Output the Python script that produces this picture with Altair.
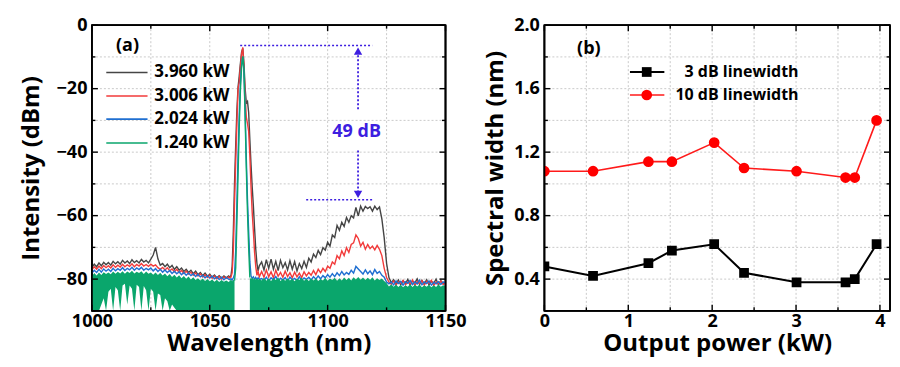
import altair as alt
import pandas as pd

FONT = "Open Sans"

# ---------------- panel (a): spectra ----------------
wl_a = list(range(1000, 1059))
wl_b = [1058.5, 1059, 1059.5, 1060, 1060.5, 1061, 1061.5, 1062, 1062.5, 1063, 1063.5,
        1064, 1064.5, 1065, 1065.5, 1066, 1066.5, 1067, 1067.5, 1068, 1068.5, 1069,
        1069.5, 1070, 1070.5, 1071]
wl_c = list(range(1072, 1151))
wavelength = [float(v) for v in wl_a + wl_b + wl_c]

# 3.960 kW
p3960 = [
    -76.4, -75.3, -76.1, -74.9, -75.8, -74.7, -75.5, -74.8, -75.6, -74.4,
    -75.2, -74.5, -75.3, -74.1, -74.9, -74.3, -75.1, -73.9, -74.8, -74.2,
    -74.9, -73.8, -74.6, -74.1, -74.9, -73.7, -72.4, -70.0, -73.6, -75.6,
    -75.1, -76.1, -75.3, -76.4, -75.7, -76.9, -76.1, -77.2, -76.5, -77.6,
    -76.9, -77.9, -77.2, -78.3, -77.5, -78.6, -77.9, -78.9, -78.1, -79.1,
    -78.5, -79.4, -78.7, -79.6, -78.9, -79.7, -79.0, -79.6, -79.0,
    -79.4, -78.8, -76.0, -65.0, -50.0, -38.0, -27.0, -19.5, -16.0, -12.0, -8.5, -7.3, -12.0,
    -20.0, -24.5, -24.0, -27.5, -36.0, -44.0, -51.0, -57.0, -64.0, -70.5, -75.0, -77.5, -75.8,
    -74.6, -77.1, -73.9, -76.6, -73.7, -76.9, -74.4, -77.3, -74.1, -76.4,
    -74.8, -77.1, -74.2, -76.9, -74.5, -77.4, -75.1, -76.7, -74.4, -76.3,
    -73.4, -74.6, -72.1, -73.2, -71.0, -72.3, -70.1, -70.9, -68.4, -69.6,
    -66.1, -66.9, -63.1, -64.6, -62.1, -63.4, -60.6, -62.1, -60.0, -60.7,
    -57.4, -60.1, -57.0, -58.6, -57.1, -57.8, -57.2, -58.6, -57.0, -58.1,
    -57.3, -61.0, -67.0, -75.0, -79.5, -81.1, -80.2, -81.6, -80.3, -81.8,
    -80.5, -81.4, -80.1, -81.9, -80.6, -81.2, -79.9, -81.7, -80.4, -81.5,
    -80.2, -81.8, -80.7, -81.3, -80.0, -81.9, -80.5, -81.4, -80.9,
]
# 3.006 kW
p3006 = [
    -77.0, -76.1, -76.9, -75.9, -76.7, -75.7, -76.4, -75.8, -76.5, -75.5,
    -76.3, -75.6, -76.2, -75.3, -76.1, -75.5, -76.0, -75.2, -76.1, -75.4,
    -75.9, -75.1, -75.9, -75.4, -76.0, -75.3, -75.9, -75.5, -76.4, -76.9,
    -76.3, -77.1, -76.4, -77.4, -76.8, -77.7, -76.9, -77.9, -77.3, -78.2,
    -77.5, -78.4, -77.8, -78.8, -78.1, -79.0, -78.3, -79.3, -78.6, -79.5,
    -78.8, -79.7, -79.0, -79.9, -79.2, -80.0, -79.3, -79.8, -79.3,
    -79.7, -79.4, -78.0, -71.0, -56.0, -43.0, -31.0, -20.0, -18.0, -13.0, -9.0, -7.0, -13.5,
    -22.0, -29.0, -31.0, -33.5, -41.0, -51.0, -59.0, -65.0, -71.5, -76.0, -78.8, -77.6, -79.3,
    -77.6, -79.4, -77.1, -79.3, -77.7, -79.6, -77.2, -79.1, -77.9, -79.4,
    -77.5, -79.2, -78.0, -79.6, -77.8, -79.3, -78.1, -79.5, -77.7, -79.0,
    -77.9, -78.8, -77.3, -78.6, -76.9, -78.0, -76.6, -77.6, -75.9, -76.6,
    -74.6, -75.3, -72.6, -73.6, -71.1, -72.6, -70.1, -71.6, -69.1, -68.6,
    -66.1, -67.2, -69.6, -68.4, -70.6, -69.1, -70.4, -69.6, -70.8, -69.4,
    -70.6, -72.6, -76.6, -79.5, -80.9, -81.6, -80.6, -81.9, -80.8, -81.3,
    -80.4, -81.8, -80.9, -81.5, -80.3, -82.0, -80.8, -81.4, -80.5, -81.9,
    -80.7, -81.3, -80.4, -82.0, -80.9, -81.5, -80.6, -81.7, -81.0,
]
# 2.024 kW
p2024 = [
    -78.1, -77.2, -77.9, -76.9, -77.8, -76.8, -77.5, -76.9, -77.6, -76.6,
    -77.4, -76.7, -77.2, -76.4, -77.3, -76.6, -77.1, -76.3, -77.2, -76.5,
    -77.0, -76.3, -77.2, -76.6, -77.1, -76.5, -77.4, -76.7, -77.6, -76.9,
    -77.8, -77.1, -77.9, -77.3, -78.2, -77.5, -78.3, -77.7, -78.6, -77.9,
    -78.8, -78.1, -78.9, -78.3, -79.2, -78.5, -79.3, -78.8, -79.6, -78.9,
    -79.7, -79.1, -79.9, -79.3, -80.1, -79.4, -80.2, -79.5, -80.0,
    -80.2, -79.9, -80.3, -79.6, -78.5, -71.0, -56.0, -41.0, -28.0, -18.0, -12.5, -10.0, -14.5,
    -27.0, -42.0, -55.0, -65.0, -74.5, -79.0, -79.8, -79.3, -80.1, -79.5, -80.2, -79.6, -80.1,
    -79.8, -80.4, -79.4, -80.6, -79.6, -80.2, -79.2, -80.5, -79.7, -80.3,
    -79.5, -80.6, -79.4, -80.2, -79.8, -80.5, -79.3, -80.4, -79.6, -80.1,
    -79.4, -80.3, -79.2, -80.0, -79.0, -79.9, -78.9, -79.6, -78.6, -79.4,
    -78.3, -79.2, -78.0, -78.9, -77.6, -78.7, -77.9, -78.5, -77.2, -78.1,
    -76.0, -76.8, -77.6, -78.4, -77.1, -78.3, -77.4, -78.6, -77.0, -78.2,
    -77.6, -78.8, -79.4, -80.9, -81.5, -80.9, -81.8, -80.6, -81.4, -80.7,
    -81.9, -80.8, -81.3, -80.4, -81.7, -80.9, -81.5, -80.3, -81.8, -80.9,
    -81.4, -80.6, -81.9, -81.0, -81.5, -80.8, -81.7, -80.9, -81.3,
]
# 1.240 kW (upper edge of the dense noise band)
p1240 = [
    -79.1, -78.1, -78.9, -77.9, -78.7, -77.8, -78.4, -77.9, -78.5, -77.6,
    -78.3, -77.7, -78.2, -77.5, -78.3, -77.6, -78.1, -77.4, -78.2, -77.7,
    -78.1, -77.5, -78.4, -77.6, -78.3, -77.9, -78.6, -77.9, -78.7, -78.0,
    -78.9, -78.2, -79.1, -78.4, -79.3, -78.6, -79.5, -78.8, -79.7, -79.0,
    -79.9, -79.2, -80.1, -79.4, -80.3, -79.7, -80.4, -79.8, -80.6, -80.0,
    -80.7, -80.1, -80.8, -80.2, -80.9, -80.3, -80.8, -80.4, -80.9,
    -80.6, -80.1, -80.7, -80.2, -80.5, -76.5, -62.0, -47.0, -32.0, -20.5, -13.0, -9.8, -14.0,
    -29.0, -45.0, -59.0, -70.0, -79.5, -80.0, -79.4, -80.1, -79.6, -80.2, -79.7, -80.3, -79.8,
    -80.4, -79.6, -80.5, -79.8, -80.6, -79.7, -80.3, -79.5, -80.6, -79.9,
    -80.5, -79.7, -80.4, -79.9, -80.7, -79.8, -80.3, -79.6, -80.5, -79.9,
    -80.6, -79.8, -80.4, -79.7, -80.6, -80.0, -80.4, -79.6, -80.5, -79.8,
    -80.3, -79.6, -80.5, -79.7, -80.4, -79.5, -80.3, -79.6, -80.4, -79.4,
    -80.1, -79.3, -80.2, -79.5, -80.3, -79.6, -80.2, -79.4, -80.4, -79.7,
    -80.3, -79.8, -80.6, -81.2, -82.3, -81.6, -82.4, -81.7, -82.5, -81.8,
    -82.6, -81.9, -82.4, -81.6, -82.5, -81.8, -82.3, -81.7, -82.6, -81.9,
    -82.4, -81.8, -82.6, -81.9, -82.5, -81.7, -82.4, -81.9, -82.3,
]
# lower edge of the 1.240 kW noise band (white gaps near 1005-1035 nm)
p1240_floor = ([-90.0] * 4 + [
    -88.0, -86.0, -90.0, -84.0, -83.0, -90.0, -82.5, -83.5, -90.0, -82.0,
    -81.5, -88.0, -82.0, -83.0, -90.0, -81.8, -82.5, -90.0, -82.2, -83.5,
    -90.0, -83.0, -84.0, -90.0, -84.5, -85.0, -90.0, -86.0, -87.0, -90.0,
    -88.0, -89.0, -90.0] + [-90.0] * 22 + [-90.0] * 26 + [-90.0] * 79)

assert len(wavelength) == len(p3960) == len(p3006) == len(p2024) == len(p1240) == len(p1240_floor)

legend_a_labels = ["3.960 kW", "3.006 kW", "2.024 kW", "1.240 kW"]
legend_a_colors = ["#454545", "#f23a3a", "#1f6fd1", "#0aa66c"]
legend_a_y = [-14.9, -22.3, -29.6, -37.1]

# ---------------- panel (b): linewidths ----------------
power_kw = [0.0, 0.58, 1.24, 1.52, 2.024, 2.38, 3.006, 3.59, 3.70, 3.96]
width_3db = [0.48, 0.42, 0.50, 0.58, 0.62, 0.44, 0.38, 0.38, 0.40, 0.62]
width_10db = [1.08, 1.08, 1.14, 1.14, 1.26, 1.10, 1.08, 1.04, 1.04, 1.40]

# ---------------- tick / grid positions ----------------
xa_major = [1000, 1050, 1100, 1150]
xa_minor = [1025, 1075, 1125]
ya_major = [-80, -60, -40, -20, 0]
ya_minor = [-90, -70, -50, -30, -10]
xa_grid = [1025, 1050, 1075, 1100, 1125]
ya_grid = [-80, -70, -60, -50, -40, -30, -20, -10]
xb_major = [0, 1, 2, 3, 4]
xb_minor = [0.5, 1.5, 2.5, 3.5]
yb_major = [0.4, 0.8, 1.2, 1.6, 2.0]
yb_minor = [0.2, 0.6, 1.0, 1.4, 1.8]
xb_grid = [0.5, 1, 1.5, 2, 2.5, 3, 3.5, 4]
yb_grid = [0.4, 0.6, 0.8, 1.0, 1.2, 1.4, 1.6, 1.8]

# ---------------- shared styling ----------------
WA, HA = 354, 286
WB, HB = 346, 286
XA_DOM, YA_DOM = (1000, 1150), (-90, 0)
XB_DOM, YB_DOM = (0, 4.12), (0.2, 2.0)
PURPLE = "#3d1ee0"
GRID_COLOR = "#c4c4c4"
LBL = dict(labelFont=FONT, labelFontSize=18, labelFontWeight="bold", labelColor="black",
           titleFont=FONT, titleFontSize=24, titleFontWeight="bold", titleColor="black",
           labelFlush=False, labelOverlap=False, labelBound=False, grid=False,
           ticks=False, domain=False, zindex=0)

xs_a = alt.Scale(domain=list(XA_DOM), nice=False, zero=False)
ys_a = alt.Scale(domain=list(YA_DOM), nice=False, zero=False)
xa_main = alt.Axis(values=xa_major, format="d", labelPadding=2, titlePadding=1,
                   title="Wavelength (nm)", **LBL)
ya_main = alt.Axis(values=ya_major, format="d", labelPadding=5, titlePadding=13,
                   title="Intensity (dBm)", **LBL)

xs_b = alt.Scale(domain=list(XB_DOM), nice=False, zero=False)
ys_b = alt.Scale(domain=list(YB_DOM), nice=False, zero=False)
xb_main = alt.Axis(values=xb_major, format=".0f", labelPadding=2, titlePadding=1,
                   title="Output power (kW)", **LBL)
yb_main = alt.Axis(values=yb_major, format=".1f", labelPadding=5, titlePadding=6,
                   title="Spectral width (nm)", **LBL)


def XA(f):
    return alt.X(f, scale=xs_a, axis=xa_main)


def YA(f):
    return alt.Y(f, scale=ys_a, axis=ya_main)


def XB(f):
    return alt.X(f, scale=xs_b, axis=xb_main)


def YB(f):
    return alt.Y(f, scale=ys_b, axis=yb_main)


def grid_layers(xg, yg, X, Y):
    kw = dict(color=GRID_COLOR, strokeWidth=0.9, strokeDash=[2, 2])
    gx = alt.Chart(pd.DataFrame({"v": xg})).mark_rule(**kw).encode(x=X("v:Q"))
    gy = alt.Chart(pd.DataFrame({"v": yg})).mark_rule(**kw).encode(y=Y("v:Q"))
    return [gx, gy]


def frame_layers(xmaj, xmin, ymaj, ymin, X, Y, xs, ys, xax, yax, xdom, ydom, w, h):
    """Inward ticks on all four sides plus the black frame, placed through the scales."""
    out = []
    (x0, x1), (y0, y1) = xdom, ydom
    for vals, length in ((xmaj, 6), (xmin, 3.5)):
        dy = (y1 - y0) * length / h
        d = pd.DataFrame({"v": vals})
        out.append(alt.Chart(d).mark_rule(color="black", strokeWidth=1.4).encode(
            x=X("v:Q"), y=alt.YDatum(y0, scale=ys, axis=yax), y2=alt.datum(y0 + dy)))
        out.append(alt.Chart(d).mark_rule(color="black", strokeWidth=1.4).encode(
            x=X("v:Q"), y=alt.YDatum(y1, scale=ys, axis=yax), y2=alt.datum(y1 - dy)))
    for vals, length in ((ymaj, 6), (ymin, 3.5)):
        dx = (x1 - x0) * length / w
        d = pd.DataFrame({"v": vals})
        out.append(alt.Chart(d).mark_rule(color="black", strokeWidth=1.4).encode(
            y=Y("v:Q"), x=alt.XDatum(x0, scale=xs, axis=xax), x2=alt.datum(x0 + dx)))
        out.append(alt.Chart(d).mark_rule(color="black", strokeWidth=1.4).encode(
            y=Y("v:Q"), x=alt.XDatum(x1, scale=xs, axis=xax), x2=alt.datum(x1 - dx)))
    edges = pd.DataFrame({"xa": [x0, x0, x0, x1], "xb": [x1, x1, x0, x1],
                          "ya": [y0, y1, y0, y0], "yb": [y0, y1, y1, y1]})
    out.append(alt.Chart(edges).mark_rule(color="black", strokeWidth=1.8).encode(
        x=X("xa:Q"), x2="xb:Q", y=Y("ya:Q"), y2="yb:Q"))
    return out


# ---- panel (a) ----
spec = pd.DataFrame({"wl": wavelength, "k": p3960, "r": p3006, "b": p2024,
                     "g": p1240, "gl": p1240_floor})
base_a = alt.Chart(spec)
l_black = base_a.mark_line(color=legend_a_colors[0], strokeWidth=1.4).encode(x=XA("wl:Q"), y=YA("k:Q"))
l_red = base_a.mark_line(color=legend_a_colors[1], strokeWidth=1.4).encode(x=XA("wl:Q"), y=YA("r:Q"))
l_blue = base_a.mark_line(color=legend_a_colors[2], strokeWidth=1.4).encode(x=XA("wl:Q"), y=YA("b:Q"))

g_band = spec[(spec.wl <= 1060.5) | (spec.wl >= 1067)].copy()
g_band["seg"] = ["L" if v <= 1060.5 else "R" for v in g_band.wl]
a_green = alt.Chart(g_band).mark_area(color=legend_a_colors[3], opacity=1).encode(
    x=XA("wl:Q"), y=YA("g:Q"), y2="gl:Q", detail="seg:N")
g_peak = spec[(spec.wl >= 1060.5) & (spec.wl <= 1067)]
l_green = alt.Chart(g_peak).mark_line(color=legend_a_colors[3], strokeWidth=1.4).encode(
    x=XA("wl:Q"), y=YA("g:Q"))

leg_a = pd.DataFrame({"lab": legend_a_labels, "col": legend_a_colors, "y": legend_a_y,
                      "x1": [1006.1] * 4, "x2": [1023.6] * 4, "xt": [1026.5] * 4})
cscale = alt.Scale(domain=legend_a_labels, range=legend_a_colors)
leg_a_lines = alt.Chart(leg_a).mark_rule(strokeWidth=1.6).encode(
    x=XA("x1:Q"), x2="x2:Q", y=YA("y:Q"),
    color=alt.Color("lab:N", scale=cscale, legend=None))
leg_a_text = alt.Chart(leg_a).mark_text(align="left", baseline="middle", font=FONT,
                                        fontSize=17, fontWeight="bold", color="black").encode(
    x=XA("xt:Q"), y=YA("y:Q"), text="lab:N")

lab_a = alt.Chart(pd.DataFrame({"x": [1015.1], "y": [-6.5], "t": ["(a)"]})).mark_text(
    font=FONT, fontSize=18, fontWeight="bold", color="black", baseline="middle").encode(
    x=XA("x:Q"), y=YA("y:Q"), text="t:N")

# 49 dB annotation
ann_h = pd.DataFrame({"x1": [1062.9, 1090.9], "x2": [1118.9, 1118.9], "y": [-6.4, -55.0]})
ann_h_rules = alt.Chart(ann_h).mark_rule(color=PURPLE, strokeWidth=1.6, strokeDash=[2, 2]).encode(
    x=XA("x1:Q"), x2="x2:Q", y=YA("y:Q"))
ann_v = pd.DataFrame({"x": [1112.9, 1112.9], "y1": [-26.5, -39.5], "y2": [-8.5, -53.0]})
ann_v_rules = alt.Chart(ann_v).mark_rule(color=PURPLE, strokeWidth=1.8, strokeDash=[2, 2]).encode(
    x=XA("x:Q"), y=YA("y1:Q"), y2="y2:Q")
heads = pd.DataFrame({"x": [1112.9, 1112.9], "y": [-8.2, -53.3],
                      "shape": ["triangle-up", "triangle-down"]})
ann_heads = alt.Chart(heads).mark_point(filled=True, size=70, opacity=1, color=PURPLE).encode(
    x=XA("x:Q"), y=YA("y:Q"), shape=alt.Shape("shape:N", scale=None))
ann_text = alt.Chart(pd.DataFrame({"x": [1112.3], "y": [-33.7], "t": ["49 dB"]})).mark_text(
    font=FONT, fontSize=18, fontWeight="bold", color=PURPLE, baseline="middle").encode(
    x=XA("x:Q"), y=YA("y:Q"), text="t:N")

panel_a = alt.layer(*grid_layers(xa_grid, ya_grid, XA, YA),
                    l_black, l_red, l_blue, a_green, l_green, leg_a_lines, leg_a_text, lab_a,
                    ann_h_rules, ann_v_rules, ann_heads, ann_text,
                    *frame_layers(xa_major, xa_minor, ya_major, ya_minor, XA, YA,
                                  xs_a, ys_a, xa_main, ya_main, XA_DOM, YA_DOM, WA, HA)
                    ).properties(width=WA, height=HA)

# ---- panel (b) ----
lw = pd.DataFrame({"p": power_kw, "w3": width_3db, "w10": width_10db})
b_line3 = alt.Chart(lw).mark_line(color="black", strokeWidth=2).encode(x=XB("p:Q"), y=YB("w3:Q"))
b_pts3 = alt.Chart(lw).mark_point(shape="square", filled=True, size=95, opacity=1,
                                  color="black", clip=True).encode(x=XB("p:Q"), y=YB("w3:Q"))
b_line10 = alt.Chart(lw).mark_line(color="#ff1a1a", strokeWidth=1.6).encode(x=XB("p:Q"), y=YB("w10:Q"))
b_pts10 = alt.Chart(lw).mark_circle(size=115, opacity=1, color="#ff0000", clip=True).encode(
    x=XB("p:Q"), y=YB("w10:Q"))

leg_b = pd.DataFrame({"lab": ["3 dB linewidth", "10 dB linewidth"], "y": [1.705, 1.56],
                      "x1": [1.02, 1.02], "x2": [1.43, 1.43], "xm": [1.22, 1.22],
                      "xt": [3.03, 3.03]})
leg_b_l3 = alt.Chart(leg_b.iloc[[0]]).mark_rule(color="black", strokeWidth=2).encode(
    x=XB("x1:Q"), x2="x2:Q", y=YB("y:Q"))
leg_b_m3 = alt.Chart(leg_b.iloc[[0]]).mark_point(shape="square", filled=True, size=95,
                                                 opacity=1, color="black").encode(
    x=XB("xm:Q"), y=YB("y:Q"))
leg_b_l10 = alt.Chart(leg_b.iloc[[1]]).mark_rule(color="#ff1a1a", strokeWidth=1.6).encode(
    x=XB("x1:Q"), x2="x2:Q", y=YB("y:Q"))
leg_b_m10 = alt.Chart(leg_b.iloc[[1]]).mark_circle(size=115, opacity=1, color="#ff0000").encode(
    x=XB("xm:Q"), y=YB("y:Q"))
leg_b_text = alt.Chart(leg_b).mark_text(align="right", baseline="middle", font=FONT,
                                        fontSize=16, fontWeight="bold", color="black").encode(
    x=XB("xt:Q"), y=YB("y:Q"), text="lab:N")
lab_b = alt.Chart(pd.DataFrame({"x": [0.53], "y": [1.85], "t": ["(b)"]})).mark_text(
    font=FONT, fontSize=18, fontWeight="bold", color="black", baseline="middle").encode(
    x=XB("x:Q"), y=YB("y:Q"), text="t:N")

panel_b = alt.layer(*grid_layers(xb_grid, yb_grid, XB, YB),
                    b_line3, b_line10, b_pts3, b_pts10, leg_b_l3, leg_b_m3, leg_b_l10,
                    leg_b_m10, leg_b_text, lab_b,
                    *frame_layers(xb_major, xb_minor, yb_major, yb_minor, XB, YB,
                                  xs_b, ys_b, xb_main, yb_main, XB_DOM, YB_DOM, WB, HB)
                    ).properties(width=WB, height=HB)

chart = alt.hconcat(panel_a, panel_b, spacing=15).properties(
    padding={"left": 10, "top": 7, "right": 0, "bottom": 0}
).configure_view(stroke="black", strokeWidth=1.8)

chart.save("out.html", embed_options={"renderer": "svg", "actions": False})
